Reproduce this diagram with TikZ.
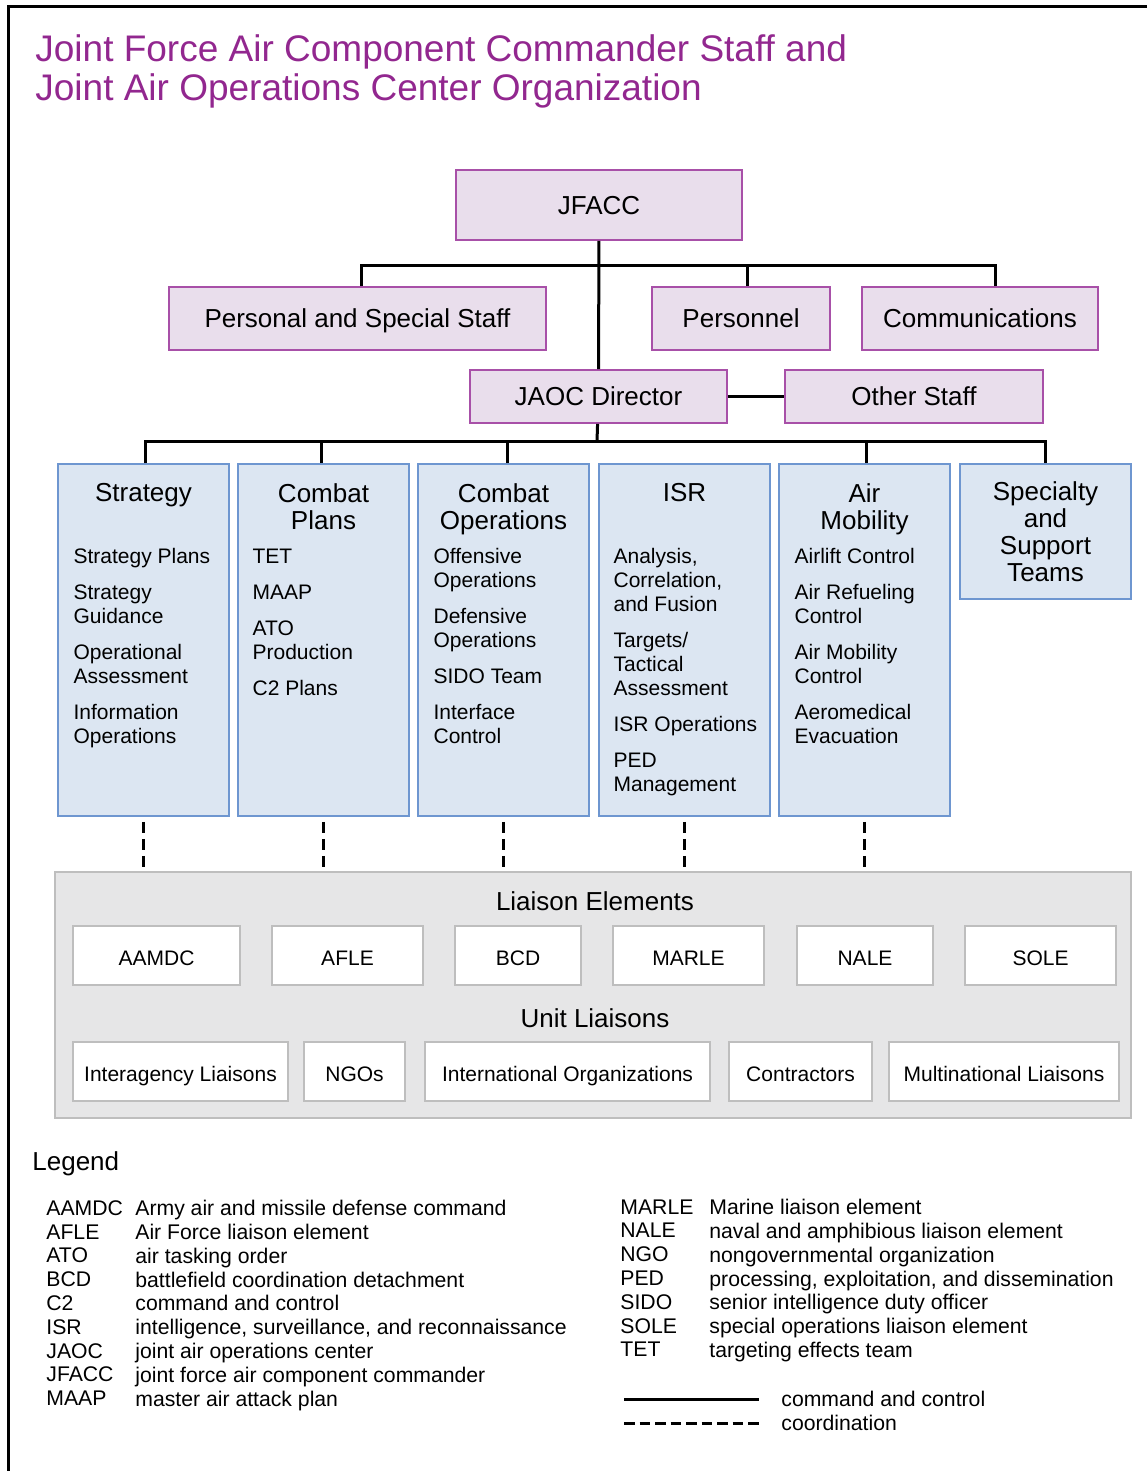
\documentclass[tikz,border=0pt]{standalone}
\usepackage{fontspec}
\setmainfont{Liberation Sans}
\usepackage{tikz}

\definecolor{jpurple}{RGB}{146,39,143}
\definecolor{lavfill}{RGB}{233,222,236}
\definecolor{lavline}{RGB}{168,80,168}
\definecolor{bluefill}{RGB}{220,230,242}
\definecolor{blueline}{RGB}{110,150,208}
\definecolor{greyfill}{RGB}{230,230,231}
\definecolor{greyline}{RGB}{190,190,190}

\begin{document}
\begin{tikzpicture}[x=0.5pt,y=-0.5pt,
  cmd/.style={draw=lavline,fill=lavfill,line width=0.8pt,font=\fontsize{13}{15}\selectfont,text height=0.92em,text depth=0pt},
  unit/.style={draw=blueline,fill=bluefill,line width=0.8pt,minimum width=85.5pt},
  ttl/.style={font=\fontsize{13}{13.5}\selectfont,align=center,inner sep=0pt,anchor=north},
  items/.style={font=\fontsize{10.5}{12}\selectfont,align=left,inner sep=0pt,anchor=north west},
  lbox/.style={draw=greyline,fill=white,line width=0.6pt,minimum height=29.5pt,font=\fontsize{10.5}{12}\selectfont,text height=1em,text depth=0pt},
  cc/.style={line width=1.5pt},
  coord/.style={line width=1.5pt,dash pattern=on 5.5pt off 3pt},
  leg/.style={font=\fontsize{10.6}{11.9}\selectfont,align=left,inner sep=0pt,anchor=north west}]

\useasboundingbox (0,0) rectangle (1147,1471);
\draw[line width=1.5pt] (1147,7) -- (8,7) -- (8,1471);

\node[anchor=north west,inner sep=0pt,align=left,text=jpurple,font=\fontsize{18.5}{19.5}\selectfont] (title) at (35,34) {Joint Force Air Component Commander Staff and\\Joint Air Operations Center Organization};

\node[cmd,minimum width=143pt,minimum height=35pt] (jfacc) at (599,205) {JFACC};
\node[cmd,minimum width=188.5pt,minimum height=31.5pt] (pss) at (357.5,318.5) {Personal and Special Staff};
\node[cmd,minimum width=89pt,minimum height=31.5pt] (pers) at (741,318.5) {Personnel};
\node[cmd,minimum width=118pt,minimum height=31.5pt] (comms) at (980,318.5) {Communications};
\node[cmd,minimum width=128.5pt,minimum height=26.5pt] (jaoc) at (598.5,396.5) {JAOC Director};
\node[cmd,minimum width=129pt,minimum height=26.5pt] (other) at (914,396.5) {Other Staff};

\node[unit,minimum height=176pt] (strat) at (143.5,640) {};
\node[ttl] (stratT) at ([yshift=-10pt]strat.north) {Strategy};
\node[items] (stratL) at ([xshift=8pt,yshift=-42.5pt]strat.north west) {Strategy Plans\\[6pt]Strategy\\Guidance\\[6pt]Operational\\Assessment\\[6pt]Information\\Operations};

\node[unit,minimum height=176pt] (cplans) at (323.5,640) {};
\node[ttl] (cplansT) at ([yshift=-10pt]cplans.north) {Combat\\Plans};
\node[items] (cplansL) at ([xshift=7.5pt,yshift=-42.5pt]cplans.north west) {TET\\[6pt]MAAP\\[6pt]ATO\\Production\\[6pt]C2 Plans};

\node[unit,minimum height=176pt] (cops) at (503.5,640) {};
\node[ttl] (copsT) at ([yshift=-10pt]cops.north) {Combat\\Operations};
\node[items] (copsL) at ([xshift=8pt,yshift=-42.5pt]cops.north west) {Offensive\\Operations\\[6pt]Defensive\\Operations\\[6pt]SIDO Team\\[6pt]Interface\\Control};

\node[unit,minimum height=176pt] (isr) at (684.5,640) {};
\node[ttl] (isrT) at ([yshift=-10pt]isr.north) {ISR};
\node[items] (isrL) at ([xshift=7.5pt,yshift=-42.5pt]isr.north west) {Analysis,\\Correlation,\\and Fusion\\[6pt]Targets/\\Tactical\\Assessment\\[6pt]ISR Operations\\[6pt]PED\\Management};

\node[unit,minimum height=176pt] (amob) at (864.5,640) {};
\node[ttl] (amobT) at ([yshift=-10pt]amob.north) {Air\\Mobility};
\node[items] (amobL) at ([xshift=8pt,yshift=-42.5pt]amob.north west) {Airlift Control\\[6pt]Air Refueling\\Control\\[6pt]Air Mobility\\Control\\[6pt]Aeromedical\\Evacuation};

\node[unit,minimum height=67.5pt,align=center,font=\fontsize{13}{13.5}\selectfont] (spec) at (1045.5,531.5) {Specialty\\and\\Support\\Teams};

\coordinate (busA) at (597,265);
\coordinate (busB) at (597,441);
\draw[cc] (jfacc) -- (jaoc);
\draw[cc] ([xshift=1.75pt]pss.north) |- (busA) -| ([xshift=7.5pt]comms.north);
\draw[cc] ([xshift=3pt]pers.north) -- ([xshift=3pt]pers.north |- busA);
\draw[cc] (jaoc) -- (other);
\draw[cc] (jaoc) -- (busB);
\draw[cc] ([xshift=0.75pt]strat.north) |- (busB) -| (spec.north);
\draw[cc] ([xshift=-1.25pt]cplans.north) -- ([xshift=-1.25pt]cplans.north |- busB);
\draw[cc] ([xshift=1.75pt]cops.north) -- ([xshift=1.75pt]cops.north |- busB);
\draw[cc] ([xshift=0.75pt]amob.north) -- ([xshift=0.75pt]amob.north |- busB);

\node[draw=greyline,fill=greyfill,line width=0.8pt,minimum width=538pt,minimum height=123pt] (liaison) at (593,995) {};
\foreach \u in {strat,cplans,cops,isr,amob}
  \draw[coord] ([yshift=-2.5pt]\u.south) -- (\u.south |- liaison.north);

\node[font=\fontsize{13}{15}\selectfont,text height=0.88em,text depth=0pt] (elemT) at (595,902) {Liaison Elements};
\node[lbox,minimum width=83.5pt] (aamdc) at (156.5,955.5) {AAMDC};
\node[lbox,minimum width=75.5pt] (afle) at (347.5,955.5) {AFLE};
\node[lbox,minimum width=63pt] (bcd) at (518,955.5) {BCD};
\node[lbox,minimum width=75.5pt] (marle) at (688.5,955.5) {MARLE};
\node[lbox,minimum width=68pt] (nale) at (865,955.5) {NALE};
\node[lbox,minimum width=75.5pt] (sole) at (1040.5,955.5) {SOLE};

\node[font=\fontsize{13}{15}\selectfont,text height=0.88em,text depth=0pt] (unitT) at (595,1019) {Unit Liaisons};
\node[lbox,minimum width=107.5pt] (inter) at (180.5,1071.5) {Interagency Liaisons};
\node[lbox,minimum width=50.5pt] (ngos) at (354.5,1071.5) {NGOs};
\node[lbox,minimum width=142.5pt] (intorg) at (567.5,1071.5) {International Organizations};
\node[lbox,minimum width=71.5pt] (contr) at (800.5,1071.5) {Contractors};
\node[lbox,minimum width=115pt] (multi) at (1004,1071.5) {Multinational Liaisons};

\node[anchor=north west,inner sep=0pt,font=\fontsize{13}{15}\selectfont] (legT) at (32,1151) {Legend};
\node[leg] (legAL) at (46,1200) {AAMDC\\AFLE\\ATO\\BCD\\C2\\ISR\\JAOC\\JFACC\\MAAP};
\node[leg] (legDL) at (135,1200) {Army air and missile defense command\\Air Force liaison element\\air tasking order\\battlefield coordination detachment\\command and control\\intelligence, surveillance, and reconnaissance\\joint air operations center\\joint force air component commander\\master air attack plan};
\node[leg] (legAR) at (620,1199) {MARLE\\NALE\\NGO\\PED\\SIDO\\SOLE\\TET};
\node[leg] (legDR) at (709,1199) {Marine liaison element\\naval and amphibious liaison element\\nongovernmental organization\\processing, exploitation, and dissemination\\senior intelligence duty officer\\special operations liaison element\\targeting effects team};

\coordinate (legCa) at (624,1399);
\coordinate (legCb) at (759,1399);
\coordinate (legDa) at (624,1423);
\coordinate (legDb) at (759,1423);
\draw[cc] (legCa) -- (legCb);
\draw[coord,dash pattern=on 5.25pt off 2.5pt] (legDa) -- (legDb);
\node[anchor=west,inner sep=0pt,font=\fontsize{10.6}{12}\selectfont] (legCT) at (781,1399) {command and control};
\node[anchor=west,inner sep=0pt,font=\fontsize{10.6}{12}\selectfont] (legDT) at (781,1423) {coordination};

\end{tikzpicture}
\end{document}
